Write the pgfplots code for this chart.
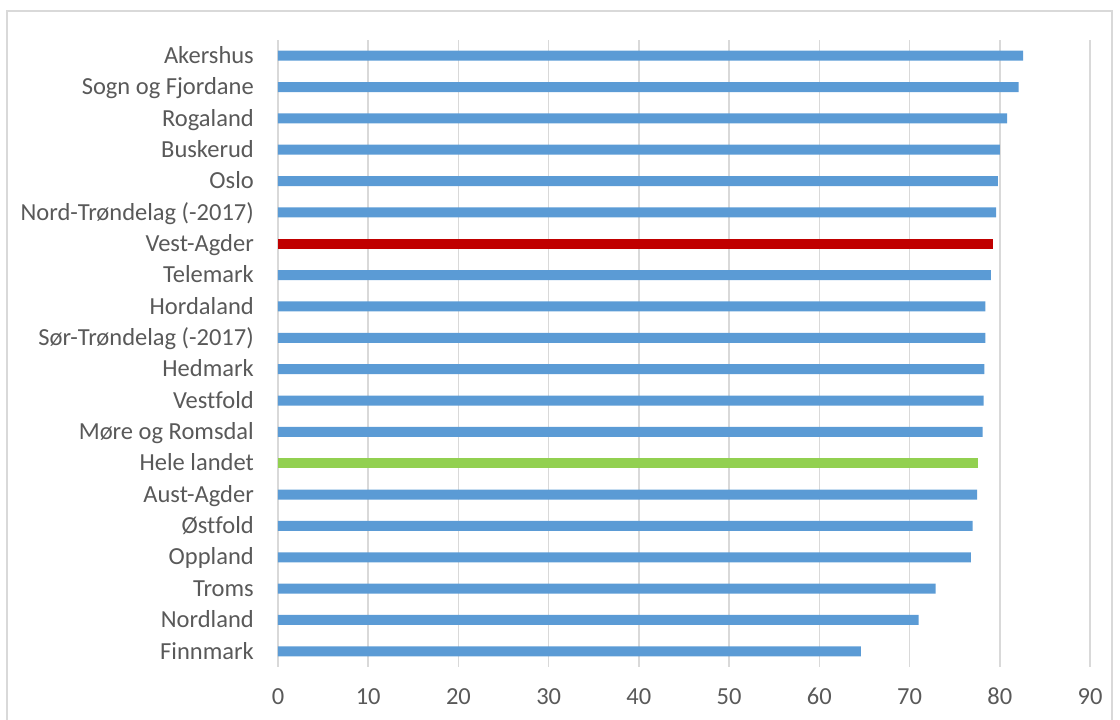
\documentclass[border=0pt]{standalone}
\usepackage{fontspec}
\setmainfont[Ligatures={NoCommon}]{Carlito}
\usepackage{pgfplots}
\pgfplotsset{compat=1.18}
\definecolor{barblue}{HTML}{5B9BD5}
\definecolor{barred}{HTML}{C00000}
\definecolor{bargreen}{HTML}{92D050}
\definecolor{gridgray}{HTML}{D9D9D9}
\definecolor{txtgray}{HTML}{595959}
\begin{document}
\begin{tikzpicture}
\useasboundingbox (0,0) rectangle (1120pt,720pt);
\draw[gridgray, line width=1.2pt] (7pt,-10pt) rectangle (1112pt,709pt);
\begin{axis}[
 at={(278pt,53pt)}, anchor=south west,
 scale only axis, width=812pt, height=627pt,
 xmin=0, xmax=90, ymin=-0.5, ymax=19.5,
 xtick={0,10,...,90},
 ytick={0,...,19},
 yticklabels={Finnmark, Nordland, Troms, Oppland, Østfold, Aust-Agder, Hele landet, Møre og Romsdal, Vestfold, Hedmark, Sør-Trøndelag (-2017), Hordaland, Telemark, Vest-Agder, Nord-Trøndelag (-2017), Oslo, Buskerud, Rogaland, Sogn og Fjordane, Akershus},
 xmajorgrids, grid style={gridgray, line width=1.5pt},
 axis line style={draw=none},
 major tick length=0pt,
 tick style={draw=none},
 ticklabel style={font=\fontsize{24.5}{29}\selectfont, text=txtgray, inner sep=0pt},
 xticklabel style={anchor=base, yshift=-38pt},
 yticklabel style={anchor=base east, xshift=-24pt, yshift=-7.7pt},
 /pgf/number format/assume math mode=true,
 xbar, bar width=10pt, bar shift=0pt,
 clip=false,
]
\addplot[draw=none, fill=barblue] coordinates {
(64.6,0) (71.0,1) (72.9,2) (76.8,3) (77.0,4) (77.5,5)
(78.1,7) (78.2,8) (78.3,9) (78.4,10) (78.4,11) (79.0,12)
(79.6,14) (79.8,15) (80.0,16) (80.8,17) (82.1,18) (82.6,19)};
\addplot[draw=none, fill=barred] coordinates {(79.3,13)};
\addplot[draw=none, fill=bargreen] coordinates {(77.6,6)};
\end{axis}
\end{tikzpicture}
\end{document}
